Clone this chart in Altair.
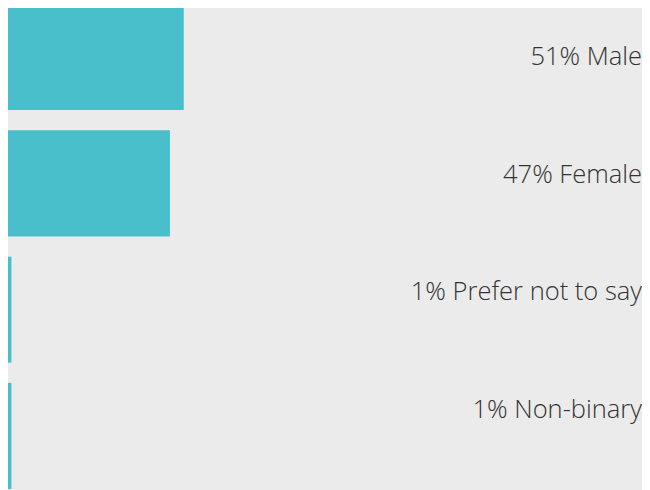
import altair as alt
import pandas as pd

categories = ["Male", "Female", "Prefer not to say", "Non-binary"]
percents = [51, 47, 1, 1]

df = pd.DataFrame({"category": categories, "percent": percents})
df["label"] = [f"{p}% {c}" for p, c in zip(percents, categories)]

W, H = 634, 482

bars = alt.Chart(df).mark_bar(color="#48BFCA").encode(
    x=alt.X("percent:Q", scale=alt.Scale(domain=[0, 184]), axis=None),
    y=alt.Y("category:N", sort=categories, axis=None,
            scale=alt.Scale(range=[-4, 481], paddingInner=0.16, paddingOuter=0)),
)

labels = alt.Chart(df).mark_text(
    align="right", baseline="middle", font="Open Sans", fontWeight=300,
    fontSize=25.5, color="#333333",
).encode(
    x=alt.value(W),
    y=alt.Y("category:N", sort=categories, axis=None,
            scale=alt.Scale(type="point", range=[49, 402], padding=0)),
    text="label:N",
)

chart = alt.layer(bars, labels).resolve_scale(y="independent").properties(
    width=W, height=H, background="#EBEBEB", padding=0,
    autosize=alt.AutoSizeParams(type="none"),
).configure_view(stroke=None)

chart.save("out.html", embed_options={"renderer": "svg", "actions": False})
